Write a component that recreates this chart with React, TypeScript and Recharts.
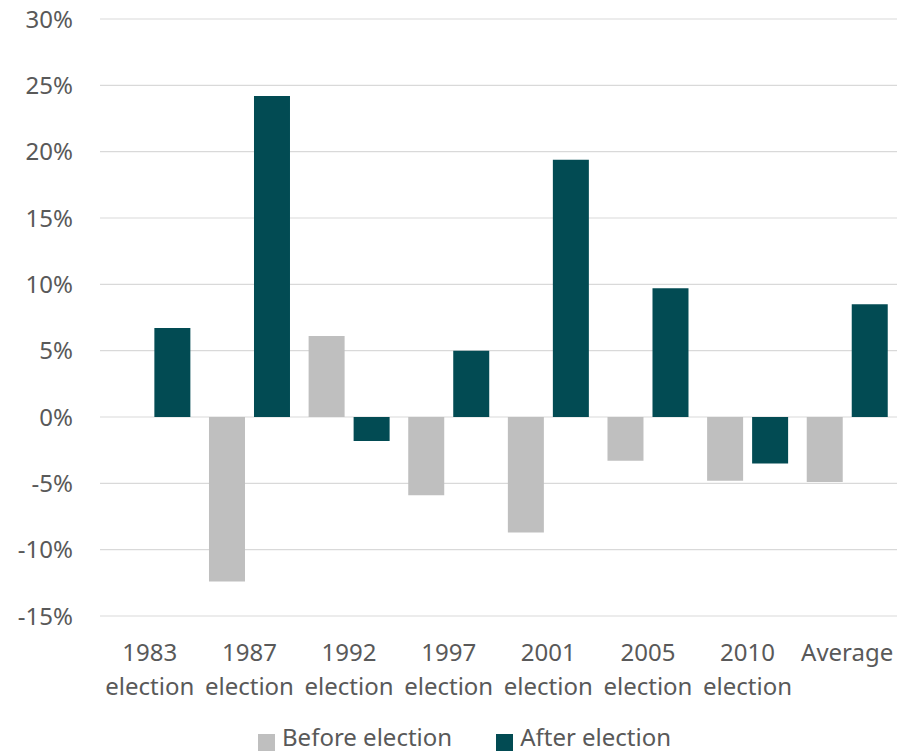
import React from 'react';
import { BarChart, Bar, XAxis, YAxis, CartesianGrid, Legend } from 'recharts';

// Cambio de precio alrededor de cada elección (en %)
const categories = ['1983 election', '1987 election', '1992 election', '1997 election', '2001 election', '2005 election', '2010 election', 'Average'];
const beforeElection = [0, -12.4, 6.1, -5.9, -8.7, -3.3, -4.8, -4.9];
const afterElection = [6.7, 24.2, -1.8, 5.0, 19.4, 9.7, -3.5, 8.5];
const yTicks = [-15, -10, -5, 0, 5, 10, 15, 20, 25, 30];

const GREY = '#BFBFBF';
const TEAL = '#024B53';
const TEXT = '#595959';
const FONT = '"Noto Sans", sans-serif';

const data = categories.map((name, i) => ({
  name,
  before: beforeElection[i],
  after: afterElection[i],
}));

// Etiqueta del eje X en dos líneas ("1983" / "election")
const CategoryTick = (props: any) => {
  const { x, y, payload } = props;
  const parts = String(payload.value).split(' ');
  return (
    <text x={x} y={y} textAnchor="middle" fill={TEXT} fontSize={24} fontFamily={FONT}>
      {parts.map((p: string, i: number) => (
        <tspan key={i} x={x} dy={i === 0 ? 45 : 34}>{p}</tspan>
      ))}
    </text>
  );
};

const LegendContent = () => {
  const items = [
    { label: 'Before election', color: GREY },
    { label: 'After election', color: TEAL },
  ];
  return (
    <div style={{ display: 'flex', alignItems: 'flex-start', fontFamily: FONT, fontSize: 24, color: TEXT, lineHeight: '24px' }}>
      {items.map((it, i) => (
        <div key={it.label} style={{ display: 'flex', alignItems: 'flex-start', marginRight: i === 0 ? 44 : 0 }}>
          <span style={{ width: 17, height: 17, background: it.color, marginTop: 9, marginRight: 7, display: 'inline-block' }} />
          <span>{it.label}</span>
        </div>
      ))}
    </div>
  );
};

export default function App() {
  return (
    <div style={{ position: 'absolute', left: 0, top: 0, width: 904, height: 754, background: '#fff' }}>
      <BarChart
        width={904}
        height={754}
        data={data}
        margin={{ top: 19, right: 7, left: 0, bottom: 0 }}
        barCategoryGap="9.4%"
        barGap={9}
      >
        <CartesianGrid vertical={false} stroke="#D9D9D9" strokeWidth={1.2} />
        <XAxis
          dataKey="name"
          axisLine={false}
          tickLine={false}
          tickSize={0}
          tickMargin={0}
          height={138}
          interval={0}
          tick={<CategoryTick />}
        />
        <YAxis
          domain={[-15, 30]}
          ticks={yTicks}
          width={100}
          axisLine={false}
          tickLine={false}
          tickSize={0}
          tickMargin={27}
          tickFormatter={(v: number) => `${v}%`}
          tick={{ fill: TEXT, fontSize: 24, fontFamily: FONT }}
        />
        <Legend
          layout="horizontal"
          verticalAlign="middle"
          content={<LegendContent />}
          wrapperStyle={{ top: 725, left: 258, width: 600 }}
        />
        <Bar dataKey="before" name="Before election" fill={GREY} isAnimationActive={false} />
        <Bar dataKey="after" name="After election" fill={TEAL} isAnimationActive={false} />
      </BarChart>
    </div>
  );
}
